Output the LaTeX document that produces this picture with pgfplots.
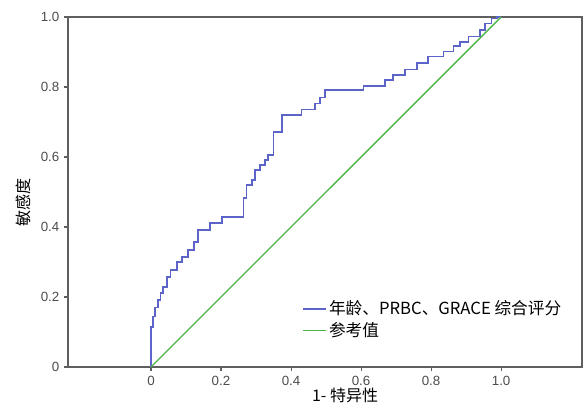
\documentclass[border=0pt]{standalone}
\usepackage{fontspec}
\setmainfont{Liberation Sans}
\newfontfamily\cjk{Noto Sans CJK SC}
\usepackage{pgfplots}
\pgfplotsset{compat=1.18}

\definecolor{roc}{RGB}{92,100,200}
\definecolor{refg}{RGB}{76,180,72}
\definecolor{axgray}{RGB}{95,95,95}

\begin{document}
\begin{tikzpicture}
\begin{axis}[
  scale only axis,
  width=385.5pt, height=262.5pt,
  xmin=-0.237, xmax=1.231,
  ymin=0, ymax=1.0,
  axis line style={axgray, line width=1.1pt},
  tick style={axgray, line width=0.8pt},
  tick align=outside, tick pos=left,
  major tick length=3pt,
  xtick={0,0.2,0.4,0.6,0.8,1.0},
  xticklabels={0,0.2,0.4,0.6,0.8,1.0},
  ytick={0,0.2,0.4,0.6,0.8,1.0},
  yticklabels={0,0.2,0.4,0.6,0.8,1.0},
  ticklabel style={font=\fontsize{10}{11}\selectfont, text=axgray!80!black},
  /pgf/number format/assume math mode=true,
  xlabel={\cjk 1- 特异性},
  ylabel={\cjk 敏感度},
  label style={font=\fontsize{12}{13}\selectfont},
  xlabel style={at={(axis description cs:0.539,0)}, anchor=north, yshift=-12pt},
  ylabel style={at={(axis description cs:0,0.47)}, anchor=south, yshift=24pt},
  legend style={at={(axis description cs:0.447,0.205)}, anchor=north west,
    draw=none, fill=none, font=\cjk\fontsize{12.5}{14}\selectfont,
    row sep=0pt, cells={anchor=west}},
  clip=false,
]
\addplot[roc, line width=1.2pt, const plot mark left, legend image post style={sharp plot}] coordinates {
(0,0) (0,0.115) (0.006,0.144) (0.012,0.170) (0.020,0.191) (0.027,0.211)
(0.035,0.229) (0.045,0.258) (0.056,0.277) (0.075,0.300) (0.088,0.315)
(0.105,0.334) (0.122,0.358) (0.135,0.391) (0.169,0.411) (0.202,0.429)
(0.264,0.482) (0.273,0.520) (0.288,0.534) (0.297,0.563) (0.311,0.577)
(0.326,0.591) (0.335,0.606) (0.350,0.672) (0.375,0.720) (0.430,0.736)
(0.469,0.753) (0.483,0.770) (0.497,0.791) (0.607,0.803) (0.669,0.820)
(0.692,0.834) (0.726,0.850) (0.759,0.869) (0.792,0.887) (0.835,0.901)
(0.864,0.917) (0.883,0.929) (0.907,0.944) (0.940,0.963) (0.954,0.981)
(0.973,0.996) (0.988,1.0) (1.0,1.0)
};
\addlegendentry{年龄、PRBC、GRACE 综合评分}
\addplot[refg, line width=1pt] coordinates {(0,0) (1,1)};
\addlegendentry{参考值}
\end{axis}
\path ([xshift=-51pt,yshift=-30pt]current axis.south west) rectangle ([xshift=1.5pt,yshift=12.75pt]current axis.north east);
\end{tikzpicture}
\end{document}
